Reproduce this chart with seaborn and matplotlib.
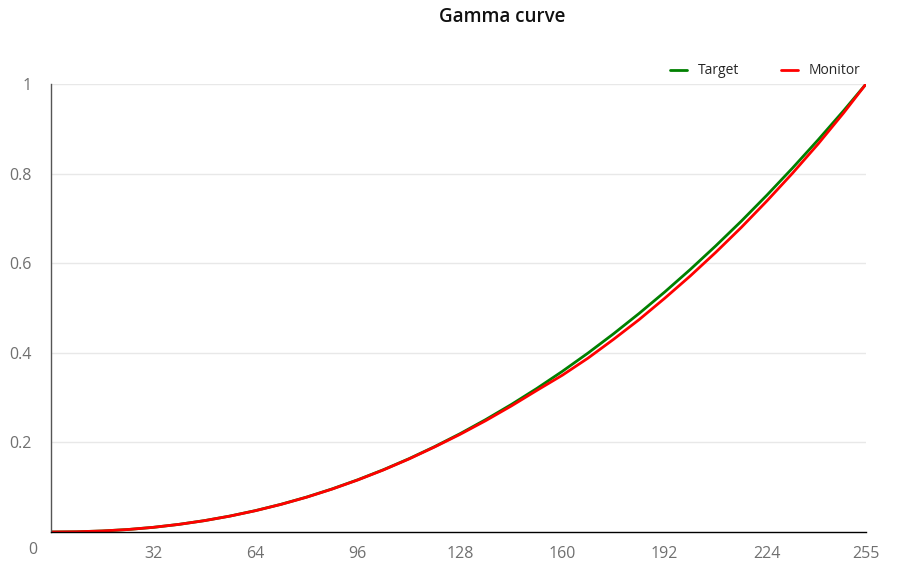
import pandas as pd
import matplotlib.pyplot as plt
import seaborn as sns

# Values
levels = [0, 8, 16, 24, 32, 40, 48, 56, 64, 72, 80, 88, 96, 104, 112, 120, 128,
          136, 144, 152, 160, 168, 176, 184, 192, 200, 208, 216, 224, 232, 240, 248, 255]
target = [0.0, 0.0005, 0.0023, 0.0055, 0.0104, 0.017, 0.0254, 0.0356, 0.0478,
          0.0619, 0.078, 0.0963, 0.1166, 0.139, 0.1636, 0.1905, 0.2195,
          0.2509, 0.2845, 0.3204, 0.3587, 0.3993, 0.4424, 0.4878, 0.5356,
          0.5859, 0.6388, 0.694, 0.7519, 0.8123, 0.8752, 0.9405, 1.0]
monitor = [0.0, 0.0005, 0.0023, 0.0055, 0.0104, 0.017, 0.0253, 0.0355, 0.0476,
           0.0617, 0.0777, 0.0959, 0.1162, 0.1385, 0.163, 0.1897, 0.218,
           0.2485, 0.2812, 0.316, 0.350, 0.388, 0.430, 0.474, 0.5216,
           0.5714, 0.6243, 0.680, 0.739, 0.8008, 0.866, 0.9355, 1.0]
x_ticks = [32, 64, 96, 128, 160, 192, 224, 255]
y_ticks = [0.2, 0.4, 0.6, 0.8, 1]
y_labels = ["0.2", "0.4", "0.6", "0.8", "1"]

df = pd.DataFrame({"level": levels, "Target": target, "Monitor": monitor})

sns.set_style("white")
plt.rcParams["font.family"] = ["Open Sans", "DejaVu Sans"]

fig = plt.figure(figsize=(9.04, 5.64), dpi=100)
ax = fig.add_axes([51 / 904, 1 - 532 / 564, 815 / 904, 448 / 564])

sns.lineplot(data=df, x="level", y="Target", color="#008000", linewidth=2, label="Target", ax=ax)
sns.lineplot(data=df, x="level", y="Monitor", color="#ff0000", linewidth=2, label="Monitor", ax=ax)

ax.set_xlim(0, 255)
ax.set_ylim(0, 1)
ax.set_xticks(x_ticks)
ax.set_yticks(y_ticks)
ax.set_yticklabels(y_labels)
ax.tick_params(length=0, labelsize=11.5, labelcolor="#707070", pad=10)
ax.tick_params(axis="y", pad=14)
ax.grid(axis="y", color="#e8e8e8", linewidth=1)
ax.set_axisbelow(True)
ax.set_xlabel("")
ax.set_ylabel("")

for side in ["top", "right"]:
    ax.spines[side].set_visible(False)
ax.spines["left"].set_color("#555555")
ax.spines["bottom"].set_color("#000000")
ax.spines["left"].set_linewidth(1)
ax.spines["bottom"].set_linewidth(1)

# the "0" label sits below-left of the origin
fig.text(33 / 904, 1 - 550 / 564, "0", ha="center", va="center", fontsize=11.5, color="#707070")

fig.text(502 / 904, 1 - 17 / 564, "Gamma curve", ha="center", va="center",
         fontsize=13.5, fontweight="semibold", color="#111111")

ax.legend(loc="lower right", bbox_to_anchor=(1.0, 1.0), ncol=2, frameon=False,
          fontsize=10, handlelength=1.2, columnspacing=3, borderaxespad=0.0)

plt.savefig("out.png", dpi=100)
